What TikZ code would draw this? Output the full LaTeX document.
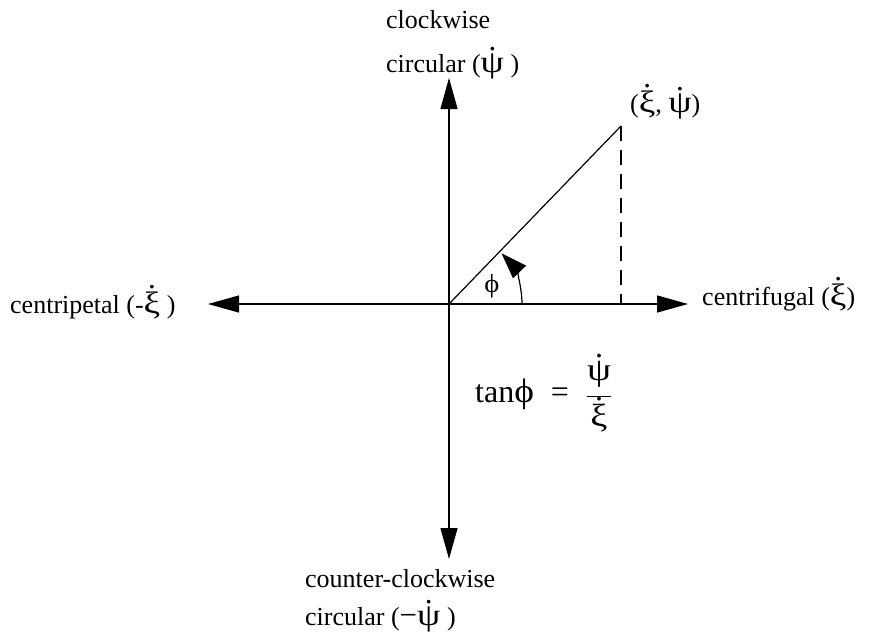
\documentclass[tikz,border=0pt]{standalone}
\usepackage{fontspec}
\usepackage{graphicx}
\setmainfont{Liberation Serif}
\usetikzlibrary{arrows.meta}
% greek letters, a bit wider, with a dot on top
\newcommand{\gwide}[1]{\scalebox{1.2}[1]{#1}}
\newcommand{\gdot}[1]{\leavevmode\setbox0\hbox{#1}%
  \rlap{\hbox to\wd0{\hss\raisebox{\dimexpr\ht0+0.1em\relax}{.}\hss}}\box0}
\newcommand{\gpsi}{\gdot{\gwide{ψ}}}
\newcommand{\gxi}{\gdot{\gwide{ξ}}}
\newcommand{\gk}[1]{{\fontsize{31}{36}\selectfont #1}}
\begin{document}
\begin{tikzpicture}[x=1pt,y=-1pt,
    lbl/.style={font=\fontsize{26}{30}\selectfont,inner sep=0pt,anchor=base west},
    axis/.style={line width=1.2pt,-{Triangle[length=31pt,width=17pt]}}]
      \useasboundingbox (0,0) rectangle (875,643);
      \coordinate (O) at (449,304);
      \coordinate (T) at (449,78);
      \coordinate (B) at (449,559);
      \coordinate (L) at (208,304);
      \coordinate (R) at (688,304);
      \coordinate (P) at (621,126);
      \coordinate (F) at (621,304);
      \draw [axis] (O) to (T);
      \draw [axis] (O) to (B);
      \draw [axis] (O) to (L);
      \draw [axis] (O) to (R);
      \draw [line width=1.2pt] (O) to (P);
      \draw [line width=1.2pt,dash pattern=on 15pt off 9pt] (P) to (F);
      \draw [line width=1.2pt,-{Triangle[length=26pt,width=18pt]}] (522,304) arc [start angle=0,end angle=-44,radius=73];
      \node (phi) [inner sep=0pt,font=\fontsize{26}{30}\selectfont] at (492,286) {\scalebox{1.1}[1]{ϕ}};
      \node (cw) [lbl] at (386,28) {clockwise};
      \node (cwc) [lbl] at (386,72) {circular (\gk{\gpsi} )};
      \node (pt) [lbl] at (630,112) {(\gk{\gxi}, \gk{\gpsi})};
      \node (cf) [lbl] at (702,305) {centrifugal (\gk{\gxi})};
      \node (cp) [lbl] at (10,313) {centripetal (-\gk{\gxi} )};
      \node (eq) [lbl,font=\fontsize{32}{36}\selectfont] at (475,402) {tan{\fontsize{34}{36}\selectfont\scalebox{1.1}[1]{ϕ}} \;= \;{\fontsize{32}{36}\selectfont$\displaystyle\frac{\raisebox{5pt}{\gpsi}}{\raisebox{-3pt}{\gxi}}$}};
      \node (ccw) [lbl] at (305,587) {counter-clockwise};
      \node (ccwc) [lbl] at (305,625) {circular (\gk{−\gpsi} )};
    \end{tikzpicture}
\end{document}
